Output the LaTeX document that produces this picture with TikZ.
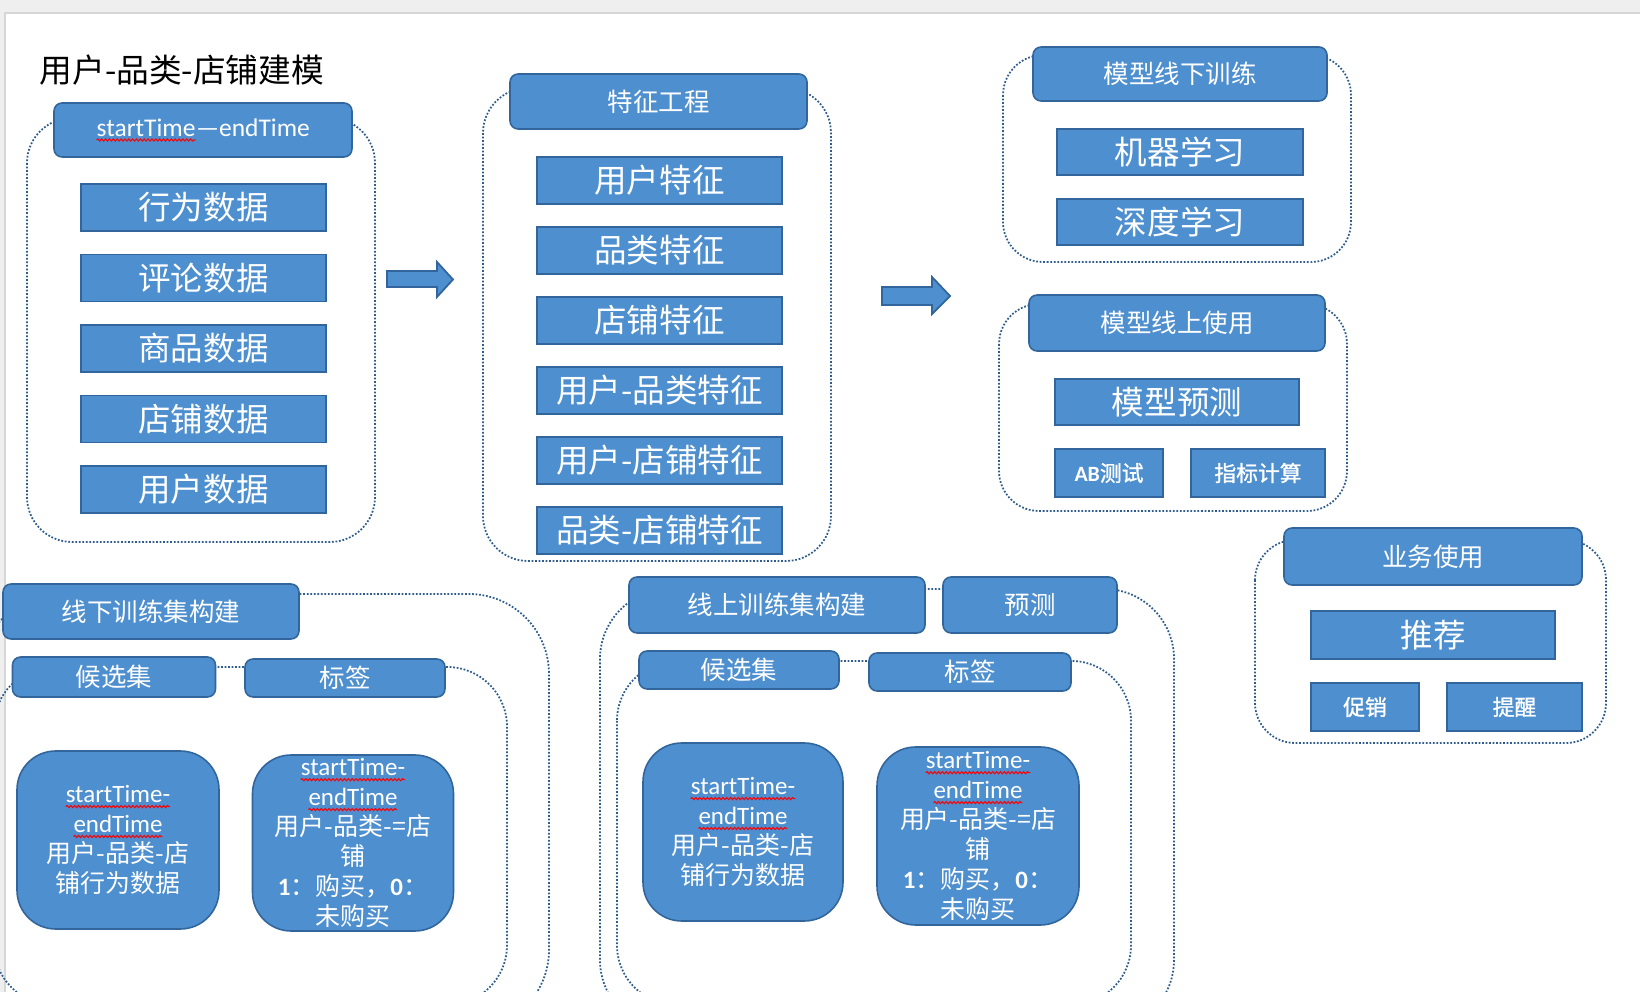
\documentclass[tikz,border=0pt]{standalone}
\usepackage{fontspec}
\setmainfont{Noto Sans CJK SC}
\newfontfamily\lat{Carlito}
\newfontfamily\midcjk[BoldFont={Noto Sans CJK SC},BoldFeatures={FakeBold=1.2}]{Noto Sans CJK SC}
\usetikzlibrary{decorations.pathmorphing}
\definecolor{boxblue}{HTML}{4E8FCF}
\definecolor{boxline}{HTML}{31659B}
\definecolor{dotblue}{HTML}{2E5C8C}
\definecolor{pagegray}{HTML}{EFEFEF}
\definecolor{pageline}{HTML}{D6D6D6}
\tikzset{
  hdr/.style={draw=boxline,fill=boxblue,line width=0.45pt,rounded corners=2.3pt,
    text=white,inner sep=0pt,font=\fontsize{7.25}{8.5}\selectfont},
  item/.style={draw=boxline,fill=boxblue,line width=0.45pt,text=white,inner sep=0pt,
    font=\fontsize{9.25}{11}\selectfont},
  minor/.style={item,font=\fontsize{6.2}{7.5}\selectfont\midcjk\bfseries},
  rbox/.style={draw=boxline,fill=boxblue,line width=0.45pt,rounded corners=11pt,
    text=white,inner sep=0pt,align=center,font=\fontsize{7.1}{8.5}\selectfont},
  grp/.style={draw=dotblue,line width=0.5pt,dash pattern=on 0.5pt off 0.5pt},
  sz/.style 2 args={minimum width=#1*0.01cm,minimum height=#2*0.01cm},
  blockarrow/.style={draw=boxline,fill=boxblue,line width=0.5pt,line join=miter},
  wavebase/.style={inner sep=0pt,outer sep=0pt,minimum width=0pt,minimum height=0pt,
    draw=none,fill=none,sharp corners},
  spellwave/.style={draw=red,line width=0.3pt,solid,sharp corners,decorate,
    decoration={snake,amplitude=0.3pt,segment length=1.1pt}},
}
% red spell-check wave under a word
\newcommand\spell[1]{\tikz[baseline=(w.base)]{\node[wavebase] (w) {#1};
  \draw[spellwave] ([yshift=-1.1pt]w.base west) -- ([yshift=-1.1pt]w.base east);}}

\begin{document}
\begin{tikzpicture}[x=0.01cm,y=-0.01cm]
  \useasboundingbox (0,0) rectangle (1640,992);
  \clip (0,0) rectangle (1640,992);
  \fill[pagegray] (0,0) rectangle (1640,992);
  \fill[white] (5,13) rectangle (1640,992);
  \draw[pageline] (5,992) -- (5,13) -- (1640,13);

  \node[anchor=west,inner sep=0pt,font=\fontsize{9.3}{11}\selectfont] (title) at (39,70) {用户-品类-店铺建模};

  % raw data
  \draw[grp,rounded corners=12.8pt] (27,118) rectangle (375,542);
  \node[hdr,sz={298}{54}] (hdrData) at (203,130) {\lat\spell{startTime}—endTime};
  \node[item,sz={245}{47}] (dBehav) at (203.5,207.5) {行为数据};
  \node[item,sz={245}{47}] (dComment) at (203.5,278) {评论数据};
  \node[item,sz={245}{47}] (dGoods) at (203.5,348.5) {商品数据};
  \node[item,sz={245}{47}] (dShop) at (203.5,419) {店铺数据};
  \node[item,sz={245}{47}] (dUser) at (203.5,489.5) {用户数据};

  \draw[blockarrow] (387,271) -- (437,271) -- (437,262) -- (453,279.5)
    -- (437,297) -- (437,287) -- (387,287) -- cycle;

  % feature engineering
  \draw[grp,rounded corners=12.8pt] (483,88) rectangle (831,561);
  \node[hdr,sz={297}{55}] (hdrFeat) at (658.5,101.5) {特征工程};
  \node[item,sz={245}{47}] (fUser) at (659.5,180.5) {用户特征};
  \node[item,sz={245}{47}] (fCat) at (659.5,250.5) {品类特征};
  \node[item,sz={245}{47}] (fShop) at (659.5,320.5) {店铺特征};
  \node[item,sz={245}{47}] (fUserCat) at (659.5,390.5) {用户-品类特征};
  \node[item,sz={245}{47}] (fUserShop) at (659.5,460.5) {用户-店铺特征};
  \node[item,sz={245}{47}] (fCatShop) at (659.5,530.5) {品类-店铺特征};

  \draw[blockarrow] (882,287) -- (932,287) -- (932,277) -- (950,296)
    -- (932,314) -- (932,305) -- (882,305) -- cycle;

  % model training / usage
  \draw[grp,rounded corners=11.4pt] (1003,55) rectangle (1351,262);
  \node[hdr,sz={294}{54}] (hdrOffTrain) at (1180,74) {模型线下训练};
  \node[item,sz={246}{46}] (mML) at (1180,152) {机器学习};
  \node[item,sz={246}{46}] (mDL) at (1180,222) {深度学习};

  \draw[grp,rounded corners=11.4pt] (999,304) rectangle (1347,511);
  \node[hdr,sz={296}{56}] (hdrOnUse) at (1177,323) {模型线上使用};
  \node[item,sz={244}{46}] (mPred) at (1177,402) {模型预测};
  \node[minor,sz={108}{48}] (mAB) at (1109,473) {{\lat\bfseries AB}测试};
  \node[minor,sz={134}{48}] (mMetric) at (1258,473) {指标计算};

  \draw[grp,rounded corners=11.4pt] (1255,540) rectangle (1606,743);
  \node[hdr,sz={298}{57}] (hdrBiz) at (1433,556.5) {业务使用};
  \node[item,sz={244}{48}] (bRec) at (1433,635) {推荐};
  \node[minor,sz={108}{48}] (bPromo) at (1365,707) {促销};
  \node[minor,sz={135}{48}] (bRemind) at (1514.5,707) {提醒};

  % offline training set
  \draw[grp,rounded corners=22.8pt] (-20,594) rectangle (549,1030);
  \draw[grp,rounded corners=17pt] (-6,667) rectangle (507,1005);
  \node[hdr,sz={296}{55}] (hdrOffSet) at (151,611.5) {线下训练集构建};
  \node[hdr,sz={203}{40}] (candOff) at (114,677) {候选集};
  \node[hdr,sz={200}{38}] (labOff) at (345,678) {标签};
  \node[rbox,sz={202}{178}] (candDataOff) at (118,840)
    {{\lat\spell{startTime-}}\\{\lat\spell{endTime}}\\用户-品类-店\\铺行为数据};
  \node[rbox,sz={201}{176}] (labDataOff) at (353,843)
    {{\lat\spell{startTime-}}\\{\lat\spell{endTime}}\\用户-品类-=店\\铺\\{\lat\bfseries 1}：购买，{\lat\bfseries 0}：\\未购买};

  % online training set
  \draw[grp,rounded corners=19.9pt] (600,589) rectangle (1174,1030);
  \draw[grp,rounded corners=17pt] (617,661) rectangle (1131,1005);
  \node[hdr,sz={296}{56}] (hdrOnSet) at (777,605) {线上训练集构建};
  \node[hdr,sz={174}{56}] (predOn) at (1030,605) {预测};
  \node[hdr,sz={200}{38}] (candOn) at (739,670) {候选集};
  \node[hdr,sz={202}{38}] (labOn) at (970,672) {标签};
  \node[rbox,sz={200}{178}] (candDataOn) at (743,832)
    {{\lat\spell{startTime-}}\\{\lat\spell{endTime}}\\用户-品类-店\\铺行为数据};
  \node[rbox,sz={202}{178}] (labDataOn) at (978,836)
    {{\lat\spell{startTime-}}\\{\lat\spell{endTime}}\\用户-品类-=店\\铺\\{\lat\bfseries 1}：购买，{\lat\bfseries 0}：\\未购买};
\end{tikzpicture}
\end{document}
